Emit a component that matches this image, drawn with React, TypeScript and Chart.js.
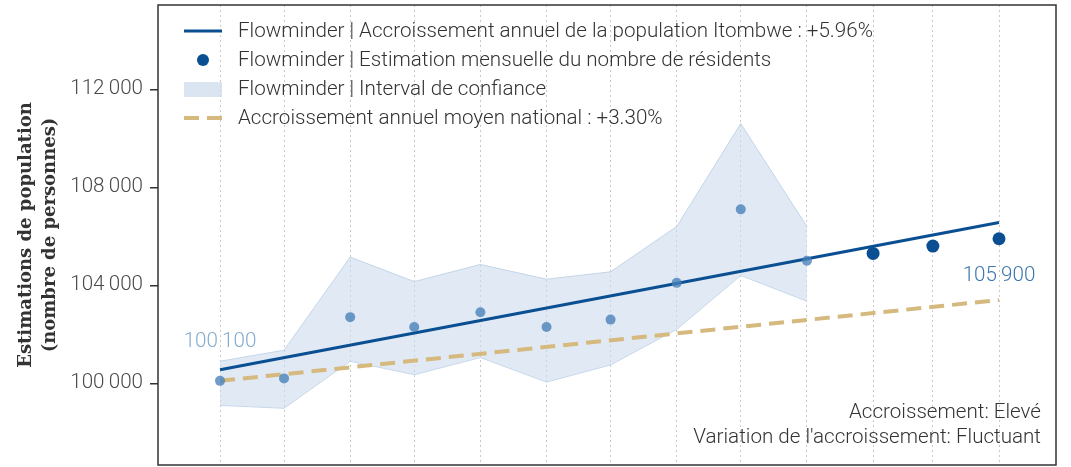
import React, { useEffect, useRef } from 'react';
import { Chart, registerables } from 'chart.js';

Chart.register(...registerables);

// ---- Data ----
const months = [
  '2022-04-01', '2022-05-01', '2022-06-01', '2022-07-01', '2022-08-01', '2022-09-01', '2022-10-01',
  '2022-11-01', '2022-12-01', '2023-01-01', '2023-02-01', '2023-03-01', '2023-04-01',
];
const residents = [100100, 100200, 102700, 102300, 102900, 102300, 102600, 104100, 107100, 105000, 105300, 105600, 105900];
const ciUpper = [100900, 101350, 105150, 104150, 104850, 104250, 104550, 106400, 110600, 106400];
const ciLower = [99100, 98980, 100900, 100350, 101050, 100050, 100750, 102200, 104400, 103350];
const trendValues = [100550, 106560];
const nationalValues = [100100, 103400];
const yTicks = [100000, 104000, 108000, 112000];
const legendLabels = [
  'Flowminder | Accroissement annuel de la population Itombwe : +5.96%',
  'Flowminder | Estimation mensuelle du nombre de résidents',
  'Flowminder | Interval de confiance',
  'Accroissement annuel moyen national : +3.30%',
];
const noteLines = ['Accroissement: Elevé', "Variation de l'accroissement: Fluctuant"];
const yTitle = ['Estimations de population', '(nombre de personnes)'];

// ---- Styles ----
const BLUE = '#0b4f93';
const LIGHT_POINT = 'rgba(70,128,186,0.78)';
const BAND_FILL = 'rgba(205,220,236,0.6)';
const BAND_LINE = 'rgba(190,210,230,0.9)';
const TAN = '#d5b97e';
const TEXT = '#333333';
const FONT = 'Roboto';
const FS = 20.6;

const days = months.map((m) => (Date.parse(m) - Date.parse(months[0])) / 86400000);
const fmt = (v: number) => String(v).replace(/\B(?=(\d{3})+(?!\d))/g, '\u2009');

const overlayPlugin = {
  id: 'overlay',
  afterDraw(chart: any) {
    const { ctx, chartArea, scales } = chart;
    const x = scales.x;
    const y = scales.y;
    ctx.save();
    // border
    ctx.strokeStyle = '#333';
    ctx.lineWidth = 1.5;
    ctx.strokeRect(chartArea.left, chartArea.top, chartArea.right - chartArea.left, chartArea.bottom - chartArea.top);

    // legend
    const lx = chartArea.left + 26;
    const tx = chartArea.left + 80;
    const rows = [31, 60, 89, 118];
    ctx.font = `300 ${FS}px ${FONT}`;
    ctx.textBaseline = 'middle';
    ctx.textAlign = 'left';
    // line
    ctx.strokeStyle = BLUE;
    ctx.lineWidth = 3;
    ctx.beginPath();
    ctx.moveTo(lx, rows[0]);
    ctx.lineTo(lx + 38, rows[0]);
    ctx.stroke();
    // point
    ctx.fillStyle = BLUE;
    ctx.beginPath();
    ctx.arc(lx + 19, rows[1], 6, 0, Math.PI * 2);
    ctx.fill();
    // box
    ctx.fillStyle = 'rgba(205,220,236,0.75)';
    ctx.fillRect(lx, rows[2] - 7, 38, 15);
    // dashed
    ctx.strokeStyle = TAN;
    ctx.lineWidth = 4;
    ctx.setLineDash([15, 8]);
    ctx.beginPath();
    ctx.moveTo(lx, rows[3]);
    ctx.lineTo(lx + 38, rows[3]);
    ctx.stroke();
    ctx.setLineDash([]);
    ctx.fillStyle = TEXT;
    legendLabels.forEach((t, i) => ctx.fillText(t, tx, rows[i] + 1));

    // value labels
    ctx.textAlign = 'center';
    const first = 0;
    const last = residents.length - 1;
    ctx.fillStyle = '#86abd0';
    ctx.fillText(fmt(residents[first]), x.getPixelForValue(days[first]), y.getPixelForValue(residents[first]) - 39);
    ctx.fillStyle = '#3c76ae';
    ctx.fillText(fmt(residents[last]), x.getPixelForValue(days[last]), y.getPixelForValue(residents[last]) + 37);

    // notes
    ctx.textAlign = 'right';
    ctx.fillStyle = TEXT;
    ctx.fillText(noteLines[0], chartArea.right - 15, 413);
    ctx.fillText(noteLines[1], chartArea.right - 15, 438);
    ctx.restore();
  },
};

export default function App() {
  const ref = useRef<HTMLCanvasElement | null>(null);
  useEffect(() => {
    if (!ref.current) return;
    const nObs = ciUpper.length;
    const chart = new Chart(ref.current, {
      type: 'line',
      data: {
        datasets: [
          {
            label: 'dark points',
            data: days.slice(nObs).map((d, i) => ({ x: d, y: residents[nObs + i] })),
            showLine: false,
            pointRadius: 6.5,
            pointBackgroundColor: BLUE,
            pointBorderWidth: 0,
          },
          {
            label: 'light points',
            data: days.slice(0, nObs).map((d, i) => ({ x: d, y: residents[i] })),
            showLine: false,
            pointRadius: 5,
            pointBackgroundColor: LIGHT_POINT,
            pointBorderWidth: 0,
          },
          {
            label: 'trend',
            data: [
              { x: days[0], y: trendValues[0] },
              { x: days[days.length - 1], y: trendValues[1] },
            ],
            borderColor: BLUE,
            borderWidth: 3,
            pointRadius: 0,
          },
          {
            label: 'national',
            data: [
              { x: days[0], y: nationalValues[0] },
              { x: days[days.length - 1], y: nationalValues[1] },
            ],
            borderColor: TAN,
            borderWidth: 4,
            borderDash: [15, 8],
            pointRadius: 0,
          },
          {
            label: 'ci upper',
            data: days.slice(0, nObs).map((d, i) => ({ x: d, y: ciUpper[i] })),
            borderColor: BAND_LINE,
            borderWidth: 1,
            backgroundColor: BAND_FILL,
            fill: '+1',
            pointRadius: 0,
          },
          {
            label: 'ci lower',
            data: days.slice(0, nObs).map((d, i) => ({ x: d, y: ciLower[i] })),
            borderColor: BAND_LINE,
            borderWidth: 1,
            pointRadius: 0,
            fill: false,
          },
        ],
      },
      options: {
        responsive: false,
        animation: false,
        events: [],
        layout: { autoPadding: false, padding: { top: 5, right: 15, bottom: 0, left: 0 } },
        plugins: { legend: { display: false }, tooltip: { enabled: false } },
        scales: {
          x: {
            type: 'linear',
            min: -29.05,
            max: 391.7,
            afterBuildTicks: (s: any) => {
              s.ticks = days.map((d) => ({ value: d }));
            },
            afterFit: (s: any) => {
              s.height = 2;
              s.paddingLeft = 0;
              s.paddingRight = 0;
            },
            ticks: { display: false },
            border: { display: false, dash: [2, 3] },
            grid: {
              color: '#c8c8c8',
              lineWidth: 1,
              drawTicks: false,
            },
          },
          y: {
            min: 96665,
            max: 115441,
            afterBuildTicks: (s: any) => {
              s.ticks = yTicks.map((v) => ({ value: v }));
            },
            afterFit: (s: any) => {
              s.width = 158;
              s.paddingTop = 0;
              s.paddingBottom = 0;
            },
            border: { display: false },
            grid: { drawOnChartArea: false, tickLength: 8, color: '#333', lineWidth: 1.5 },
            ticks: {
              padding: 7,
              color: '#4a4a4a',
              font: { family: FONT, size: FS, weight: '300' as any },
              callback: (v: any) => fmt(Number(v)),
            },
            title: {
              display: true,
              text: yTitle,
              color: '#333',
              padding: { top: 14, bottom: 0 },
              font: { family: 'DejaVu Serif', size: 18, weight: 'bold', lineHeight: 1.35 },
            },
          },
        },
      },
      plugins: [overlayPlugin],
    });
    return () => chart.destroy();
  }, []);
  return (
    <div style={{ position: 'fixed', left: 0, top: 0, width: 1071, height: 467, background: '#fff' }}>
      <canvas ref={ref} width={1071} height={467} style={{ width: 1071, height: 467 }} />
    </div>
  );
}
